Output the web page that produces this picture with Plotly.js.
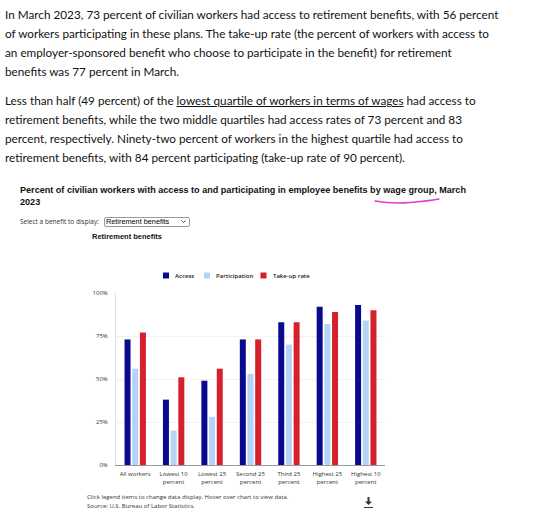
<!DOCTYPE html>
<html><head><meta charset="utf-8">
<script src="https://cdn.plot.ly/plotly-3.0.1.min.js"></script>
<style>
html,body{margin:0;padding:0;background:#fff;width:555px;height:515px;overflow:hidden;}
.abs{position:absolute;white-space:nowrap;}
.para{left:5px;font-family:Lato,'Open Sans',sans-serif;font-size:14px;line-height:19px;color:#111;}
#p1{top:5px}
#p2{top:91px}
#ttl{left:20px;top:184px;font-family:'Liberation Sans',Arial,sans-serif;font-weight:bold;font-size:9px;line-height:12px;color:#111;}
#sell{left:20px;top:217.5px;font-family:'Open Sans',sans-serif;font-size:6.5px;line-height:8px;color:#333;}
#sel{position:absolute;left:104px;top:216.5px;width:86px;height:10px;font-size:7.3px;line-height:8px;padding:0 0 0 1px;margin:0;font-family:'Liberation Sans',Arial,sans-serif;border:1px solid #9a9a9a;border-radius:2px;background:#fff;color:#000;-webkit-appearance:none;appearance:none;}
#sub{left:92px;top:232px;font-family:'Liberation Sans',Arial,sans-serif;font-weight:bold;font-size:7.5px;line-height:9px;color:#111;}
#chart{position:absolute;left:0;top:240px;width:555px;height:250px;}
#foot{left:87px;top:493px;font-family:'Open Sans',sans-serif;font-size:6px;line-height:8.5px;color:#333;}
#ov{position:absolute;left:0;top:0;pointer-events:none;}
</style></head>
<body>
<div id="p1" class="abs para">In March 2023, 73 percent of civilian workers had access to retirement benefits, with 56 percent<br>of workers participating in these plans. The take-up rate (the percent of workers with access to<br>an employer-sponsored benefit who choose to participate in the benefit) for retirement<br>benefits was 77 percent in March.</div>
<div id="p2" class="abs para">Less than half (49 percent) of the <u>lowest quartile of workers in terms of wages</u> had access to<br>retirement benefits, while the two middle quartiles had access rates of 73 percent and 83<br>percent, respectively. Ninety-two percent of workers in the highest quartile had access to<br>retirement benefits, with 84 percent participating (take-up rate of 90 percent).</div>
<div id="ttl" class="abs">Percent of civilian workers with access to and participating in employee benefits by wage group, March<br>2023</div>
<div id="sell" class="abs">Select a benefit to display:</div>
<select id="sel"><option>Retirement benefits</option></select>
<div id="sub" class="abs">Retirement benefits</div>
<div id="chart"></div>
<div id="foot" class="abs">Click legend items to change data display. Hover over chart to view data.<br>Source: U.S. Bureau of Labor Statistics.</div>
<svg id="ov" width="555" height="515">
  <path d="M375,201 Q392,204 410,202.5 T439,199" fill="none" stroke="#e23ad6" stroke-width="1.4" stroke-linecap="round"/>
  <path d="M181.5,220.5 L183.5,222.5 L185.5,220.5" fill="none" stroke="#333" stroke-width="0.9"/>
  <g fill="#333" stroke="#333">
    <rect x="367.5" y="497" width="2" height="5" stroke="none"/>
    <path d="M365,501.5 L372,501.5 L368.5,505 Z" stroke="none"/>
    <line x1="364" y1="507.5" x2="373" y2="507.5" stroke-width="1"/>
  </g>
</svg>
<script>
// ---- data ----
var categories = ['All workers','Lowest 10<br>percent','Lowest 25<br>percent','Second 25<br>percent','Third 25<br>percent','Highest 25<br>percent','Highest 10<br>percent'];
var access        = [73, 38, 49, 73, 83, 92, 93];
var participation = [56, 20, 28, 53, 70, 82, 84];
var takeup        = [77, 51, 56, 73, 83, 89, 90];
var seriesNames   = ['Access','Participation','Take-up rate'];
var yTickVals     = [0, 25, 50, 75, 100];
var yTickText     = ['0%','25%','50%','75%','100%'];

// ---- fit text widths ----
function fitWidth(el, target){
  var w = el.getBoundingClientRect().width;
  var fs = parseFloat(getComputedStyle(el).fontSize);
  el.style.fontSize = (fs*target/w)+'px';
}
fitWidth(document.getElementById('p1'), 494);
(function(){ var p1=document.getElementById('p1'), p2=document.getElementById('p2'); p2.style.fontSize=p1.style.fontSize; })();
fitWidth(document.getElementById('ttl'), 447);

var colors = ['#0b0a8e','#b5d3f7','#d5202d'];
var vals = [access, participation, takeup];
var traces = seriesNames.map(function(n,i){
  return {type:'bar', name:n, x:categories, y:vals[i], marker:{color:colors[i]},
          hovertemplate:'%{x}<br>'+n+': %{y}%<extra></extra>'};
});

var L=116, R=170, T=53, B=25, W=555, H=250, TOP=240;
var pw=W-L-R, ph=H-T-B;
function px(x){return (x-L)/pw;}
function pyPage(y){return ((TOP+T+ph) - y)/ph;}

var legSq=[163,204,260.5], legTx=[173,213.5,270.5], legY=275.5;
var shapes=[], annotations=[];
seriesNames.forEach(function(n,i){
  shapes.push({type:'rect', xref:'paper', yref:'paper', x0:px(legSq[i]), x1:px(legSq[i]+6), y0:pyPage(legY+3), y1:pyPage(legY-3), fillcolor:colors[i], line:{width:0}});
  annotations.push({xref:'paper', yref:'paper', x:px(legTx[i]), y:pyPage(legY), xanchor:'left', yanchor:'middle', text:n, showarrow:false, font:{family:'Open Sans', size:6, color:'#222', weight:600}});
});

var layout = {
  width:W, height:H,
  margin:{l:L, r:R, t:T, b:B, pad:0},
  paper_bgcolor:'rgba(0,0,0,0)', plot_bgcolor:'rgba(0,0,0,0)',
  barmode:'group', bargap:0.40, bargroupgap:0.22,
  showlegend:false,
  font:{family:'Open Sans', size:6, color:'#333'},
  xaxis:{type:'category', showline:true, linecolor:'#9a9a9a', linewidth:1, ticks:'', showgrid:false, ticklabelstandoff:3, tickfont:{size:6, color:'#333'}, fixedrange:true, automargin:false},
  yaxis:{range:[0,100], tickvals:yTickVals, ticktext:yTickText, showgrid:true, gridcolor:'#f3f3f3', gridwidth:1, showline:true, linecolor:'#e0e0e0', zeroline:false, ticks:'', ticklabelstandoff:6, tickfont:{size:6, color:'#333'}, fixedrange:true, automargin:false},
  shapes:shapes, annotations:annotations
};
Plotly.newPlot('chart', traces, layout, {displayModeBar:false, responsive:false});
</script>
</body></html>
